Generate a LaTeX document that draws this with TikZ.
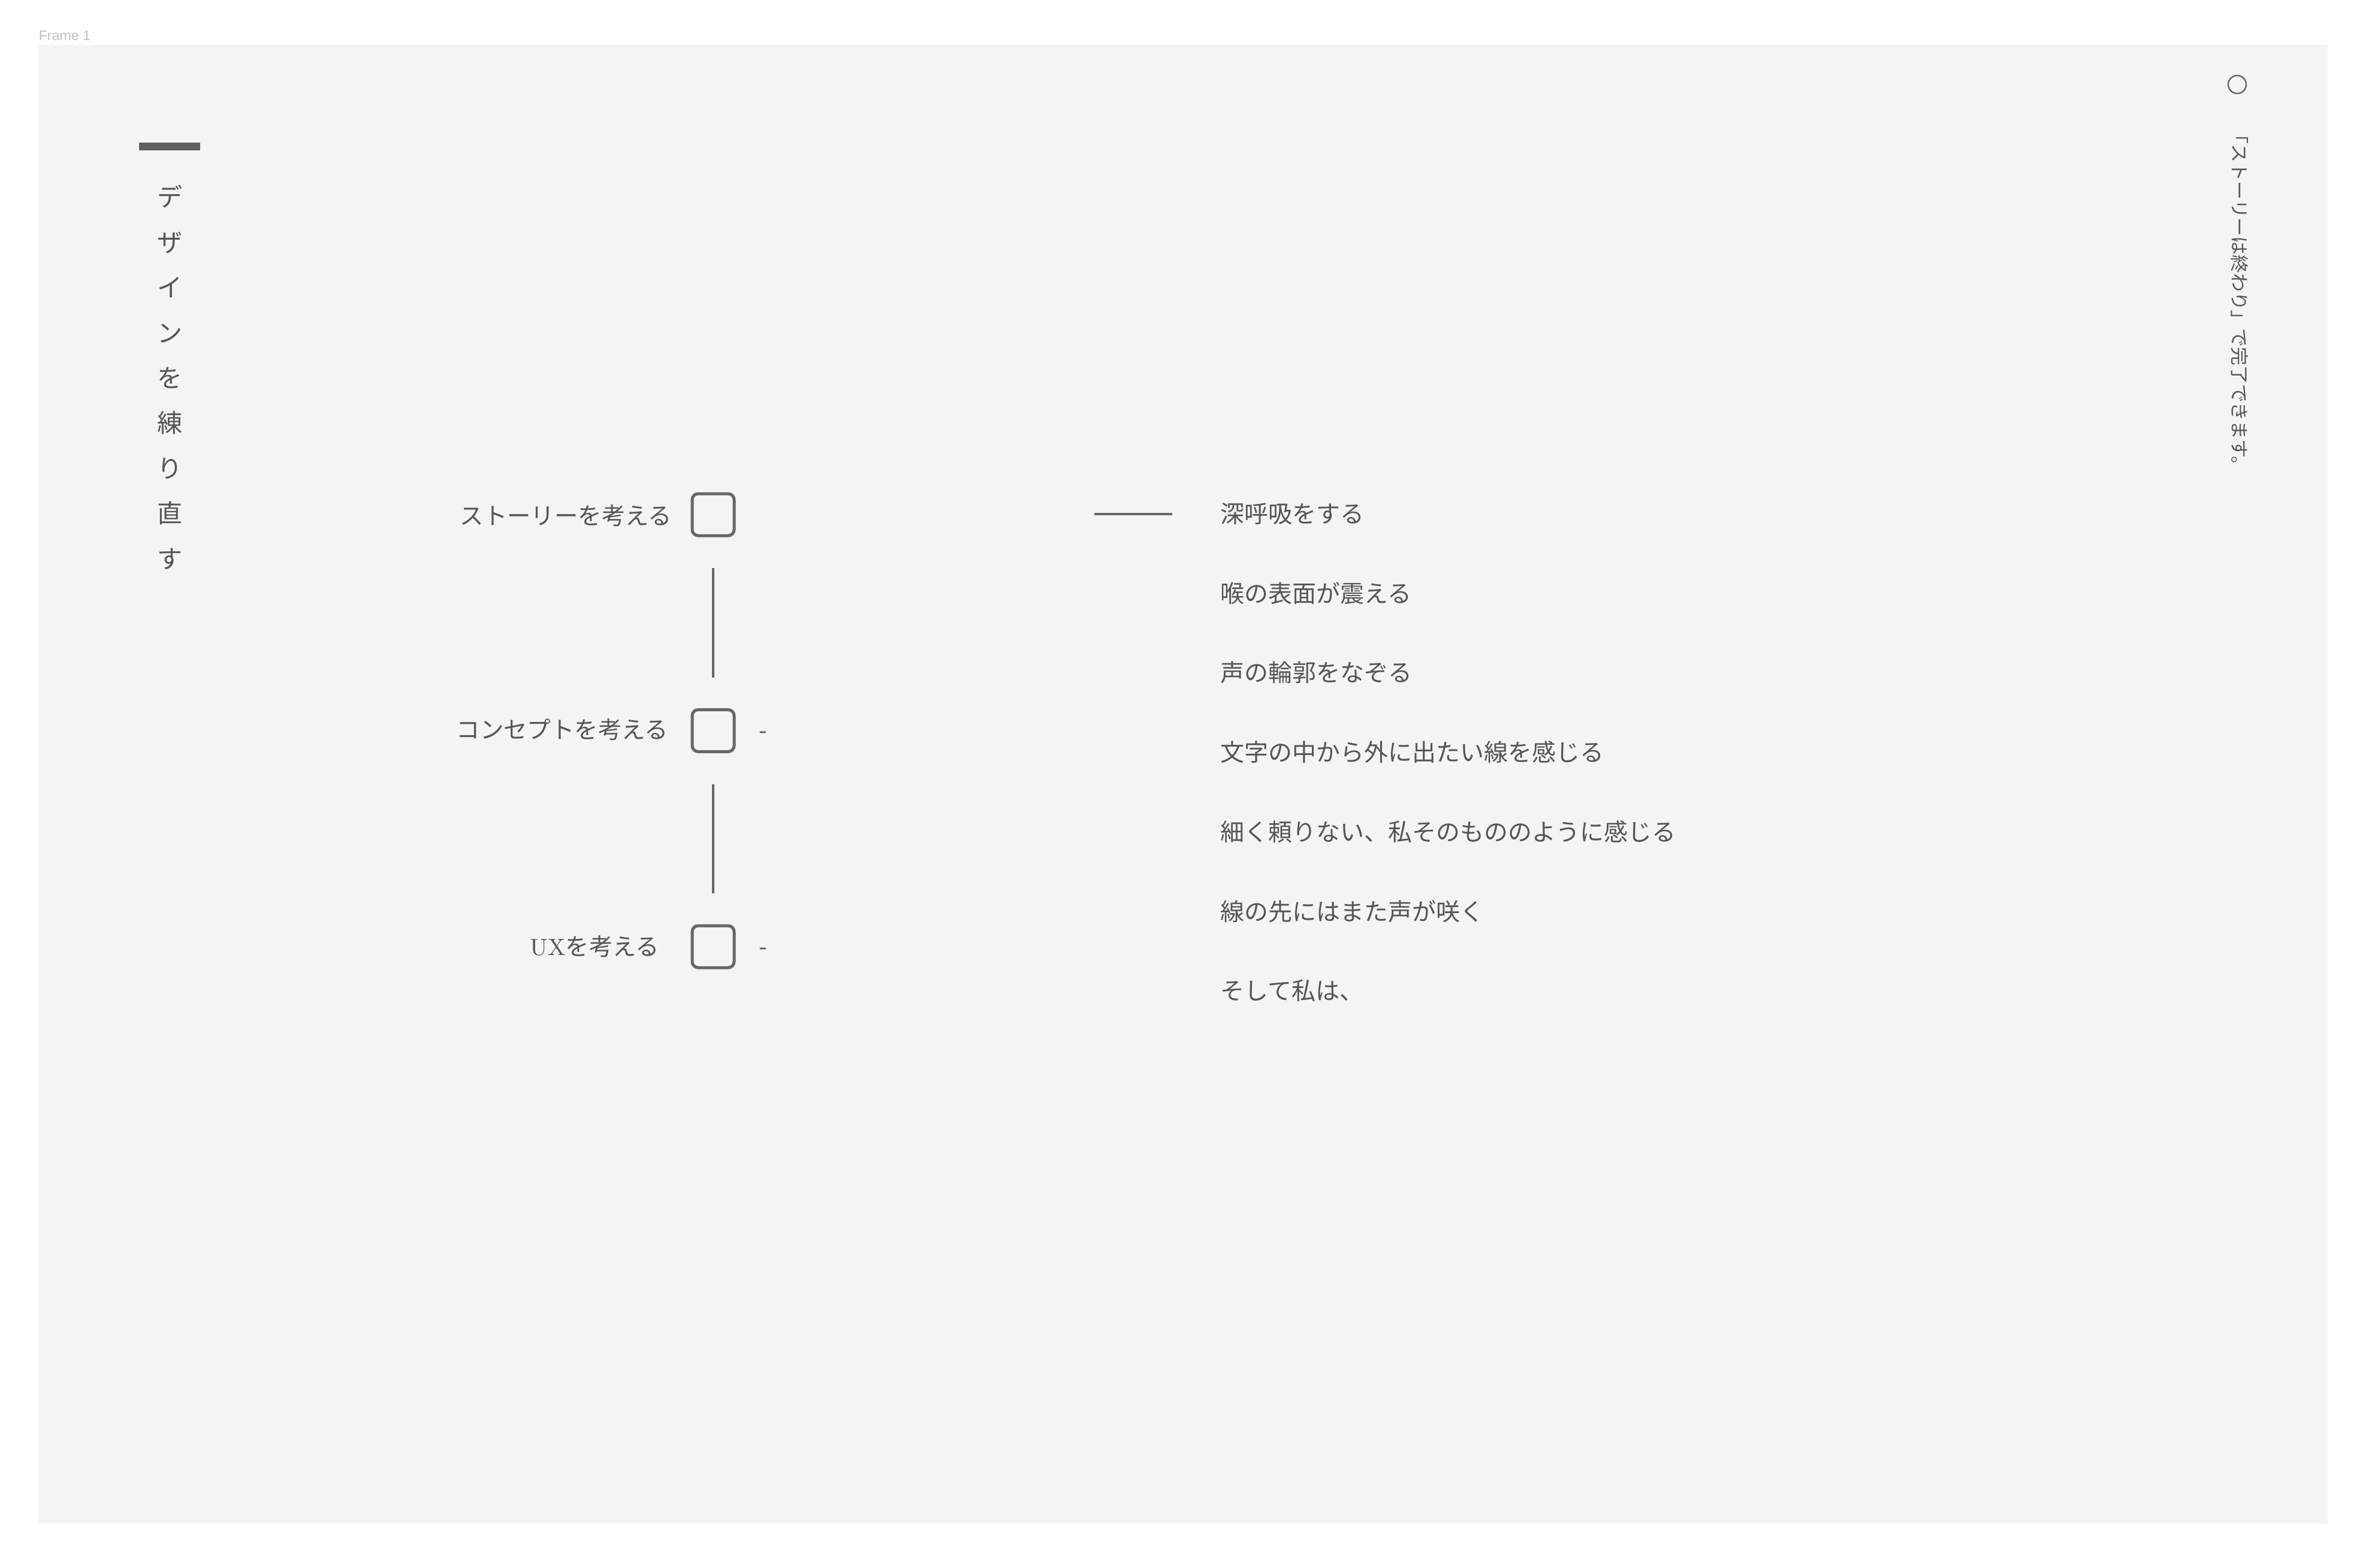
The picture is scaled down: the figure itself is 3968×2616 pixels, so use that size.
\documentclass[tikz,border=0pt]{standalone}
\usepackage{fontspec}
\newfontfamily\jp{Noto Sans CJK JP}
\newfontfamily\lsans{Liberation Sans}
\definecolor{txt}{HTML}{555555}
\definecolor{linec}{HTML}{666666}
\definecolor{barc}{HTML}{606060}
\definecolor{framebg}{HTML}{F4F4F4}
\definecolor{framelbl}{HTML}{C2C2C2}
\begin{document}
\begin{tikzpicture}[x=0.25pt,y=-0.25pt,
  lbl/.style={font=\jp\fontsize{9.85pt}{12pt}\selectfont, text=txt, inner sep=0pt, text height=8.67pt, text depth=1.18pt},
  plbl/.style={font=\jp\fontsize{10pt}{12pt}\selectfont, text=txt, inner sep=0pt, text height=8.8pt, text depth=1.2pt, anchor=west},
  vchar/.style={font=\jp\fontsize{10.5pt}{12pt}\selectfont, text=txt, inner sep=0pt, text height=9.24pt, text depth=1.26pt},
  rnote/.style={font=\jp\fontsize{7.7pt}{9pt}\selectfont, text=txt, inner sep=0pt, text height=6.78pt, text depth=0.92pt, rotate=-90, anchor=west},
  chkbox/.style={draw=linec, line width=1.25pt, rounded corners=2.5pt, minimum width=17.5pt, minimum height=17.5pt, inner sep=0pt},
  conn/.style={draw=linec, line width=1.1pt, shorten <=12.9pt, shorten >=12.8pt},
  hline/.style={draw=linec, line width=1.1pt}
]
\useasboundingbox (0,0) rectangle (3968,2616);
\fill[white] (0,0) rectangle (3968,2616);
\fill[framebg] (64,75) rectangle (3884,2543);
\node[font=\lsans\fontsize{5.8pt}{7pt}\selectfont, text=framelbl, anchor=base west, inner sep=0pt] (frametitle) at (64,67) {Frame 1};

% left title bar and vertical title
\fill[barc] (232,238) rectangle (334,251);
\foreach \c [count=\i from 0] in {デ,ザ,イ,ン,を,練,り,直,す}{
  \node[vchar] (t\i) at (283,{329+75.4*\i}) {\c};
}

% checklist
\node[lbl, anchor=east] (l1) at (1122,860) {ストーリーを考える};
\node[lbl, anchor=east] (l2) at (1116,1217) {コンセプトを考える};
\node[lbl, anchor=east] (l3) at (1101,1579) {{\rmfamily UX}を考える};
\node[chkbox] (b1) at (1190,859) {};
\node[chkbox] (b2) at (1190,1219.5) {};
\node[chkbox] (b3) at (1190,1580) {};
\path[conn] (b1) -- (b2);
\path[conn] (b2) -- (b3);
\node[lbl] (d2) at (1273,1218) {-};
\node[lbl] (d3) at (1273,1579) {-};

% right list
\coordinate (h1) at (1826,858);
\coordinate (h2) at (1956,858);
\path[hline] (h1) -- (h2);
\node[plbl] (p1) at (2036,857) {深呼吸をする};
\node[plbl] (p2) at (2036,990) {喉の表面が震える};
\node[plbl] (p3) at (2036,1122) {声の輪郭をなぞる};
\node[plbl] (p4) at (2036,1255) {文字の中から外に出たい線を感じる};
\node[plbl] (p5) at (2036,1388) {細く頼りない、私そのもののように感じる};
\node[plbl] (p6) at (2036,1521) {線の先にはまた声が咲く};
\node[plbl] (p7) at (2036,1653) {そして私は、};

% top right note
\node[draw=linec, circle, line width=0.6pt, minimum size=7.5pt, inner sep=0pt] (circ) at (3733,141) {};
\node[rnote] (note) at (3737,209) {「ストーリーは終わり」で完了できます。};
\end{tikzpicture}
\end{document}
